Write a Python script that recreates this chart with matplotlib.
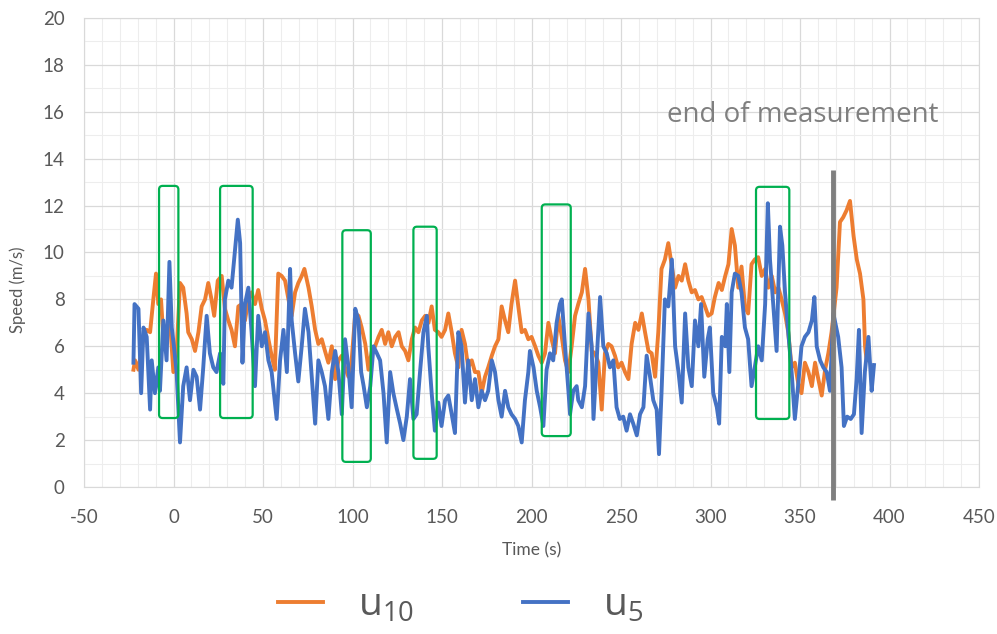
import matplotlib
matplotlib.use("Agg")
import matplotlib.pyplot as plt
from matplotlib.patches import FancyBboxPatch

plt.rcParams['font.family'] = ['Lato', 'DejaVu Sans']
plt.rcParams['mathtext.default'] = 'regular'
plt.rcParams['axes.unicode_minus'] = False

# u10 (orange) readings: time (s), speed (m/s)
t_u10 = [-22.4, -21.5, -19.6, -16.8, -15.0, -13.1, -11.3, -9.8, -8.5, -7.0, -5.7, -3.9, -2.0, -0.1,
         1.7, 3.6, 5.4, 7.3, 8.2, 10.2, 12.0, 13.9, 15.7, 17.6, 19.4, 21.2, 22.7, 24.7, 26.9, 28.7,
         30.6, 32.4, 34.3, 36.2, 38.1, 39.9, 41.8, 43.6, 45.5, 47.3, 49.3, 51.1, 53.0, 54.8, 56.6,
         58.5, 60.4, 62.3, 64.2, 66.0, 67.9, 69.7, 71.6, 73.1, 75.4, 77.2, 79.1, 80.9, 82.8, 84.6,
         86.5, 88.4, 90.3, 92.1, 94.0, 95.8, 97.7, 99.5, 101.5, 103.3, 105.1, 107.1, 108.9, 110.8,
         112.6, 114.5, 116.3, 118.2, 120.0, 121.9, 123.8, 125.7, 127.5, 129.4, 131.2, 133.1, 134.9,
         136.8, 138.7, 140.6, 142.4, 144.2, 146.0, 147.9, 149.7, 151.7, 153.5, 155.4, 157.2, 159.1,
         160.9, 162.8, 164.6, 166.6, 168.4, 170.3, 172.1, 174.0, 175.8, 177.8, 179.6, 181.5, 183.3,
         185.2, 187.0, 188.8, 190.8, 192.6, 194.5, 196.3, 198.2, 200.0, 202.0, 203.8, 205.7, 207.5,
         209.4, 211.2, 213.1, 214.9, 216.9, 218.7, 220.6, 222.4, 224.3, 226.1, 228.1, 229.9, 231.8,
         233.6, 235.5, 237.3, 239.2, 241.0, 242.9, 244.7, 246.6, 248.4, 250.3, 252.2, 254.1, 255.9,
         257.9, 259.7, 261.6, 263.4, 265.3, 267.1, 269.0, 270.8, 272.6, 274.5, 276.4, 278.4, 280.2,
         282.1, 283.9, 285.8, 287.6, 289.5, 291.3, 293.2, 295.0, 296.9, 298.7, 300.6, 302.4, 304.5,
         306.3, 308.2, 310.0, 311.8, 313.6, 315.5, 317.3, 319.2, 321.0, 322.9, 324.7, 326.6, 328.6,
         330.5, 332.3, 334.2, 336.1, 337.9, 339.7, 341.6, 343.4, 345.3, 347.1, 349.0, 350.8, 352.7,
         354.7, 356.6, 358.4, 360.2, 362.1, 364.0, 365.8, 367.6, 370.4, 372.3, 374.1, 376.0, 377.9,
         379.9, 381.7, 383.5, 385.4, 386.3, 387.2]
u10 = [5.0, 5.4, 5.0, 6.4, 6.7, 6.6, 8.0, 9.1, 7.8, 8.0, 6.4, 6.8, 7.1, 4.9,
       5.7, 8.7, 8.5, 7.4, 6.6, 6.3, 5.8, 6.6, 7.7, 8.0, 8.7, 8.0, 7.3, 8.8, 9.0, 7.6,
       7.1, 6.7, 6.0, 7.7, 7.8, 7.1, 8.0, 8.3, 7.8, 8.4, 7.6, 7.1, 6.3, 5.6, 5.0,
       9.1, 9.0, 8.8, 8.0, 7.3, 8.3, 8.7, 9.0, 9.3, 8.5, 7.7, 6.7, 6.1, 6.3, 5.8,
       5.3, 6.0, 4.6, 5.4, 5.6, 5.1, 4.7, 5.4, 7.4, 7.3, 6.8, 6.1, 5.0, 5.8,
       6.0, 6.4, 6.7, 6.1, 6.6, 6.0, 6.4, 6.6, 6.0, 5.8, 5.4, 6.3, 6.8,
       6.6, 7.1, 7.3, 7.0, 7.7, 6.7, 6.6, 6.4, 6.7, 7.4, 6.6, 5.7, 5.1,
       6.7, 6.1, 5.1, 5.4, 4.9, 4.9, 4.0, 4.7, 5.1, 5.6, 6.0, 6.3, 7.7,
       7.1, 6.6, 7.8, 8.8, 7.7, 6.6, 6.7, 6.3, 6.4, 6.0, 5.6, 5.3, 5.7,
       7.0, 6.3, 5.7, 7.3, 6.4, 5.4, 4.9, 6.0, 7.3, 7.8, 8.3, 9.3, 8.0,
       5.8, 5.7, 5.3, 3.3, 5.7, 6.1, 6.0, 5.6, 5.1, 5.3, 4.9, 4.6, 6.1,
       7.0, 6.7, 7.4, 6.6, 5.8, 5.7, 4.7, 6.6, 9.3, 9.7, 10.4, 9.4, 8.5,
       9.0, 8.8, 9.5, 8.8, 8.3, 8.4, 8.0, 8.1, 7.7, 7.3, 7.4, 8.1, 8.7,
       8.4, 9.0, 9.5, 11.0, 10.3, 8.5, 9.4, 7.7, 7.4, 9.5, 9.7, 9.8, 9.0,
       9.3, 8.5, 9.0, 8.3, 8.5, 8.0, 7.4, 6.6, 5.1, 5.3, 4.4, 4.0, 5.3,
       4.9, 4.3, 5.3, 4.6, 3.9, 5.0, 5.7, 6.6, 8.5, 11.3, 11.5, 11.8, 12.2,
       10.7, 9.7, 9.1, 8.0, 6.0, 5.4]

# u5 (blue) readings: time (s), speed (m/s)
t_u5 = [-22.4, -21.8, -19.6, -18.1, -16.8, -15.0, -13.1, -12.2, -10.4, -8.5, -7.6, -5.7, -3.9, -2.3,
        -1.0, 0.5, 1.7, 3.6, 5.4, 7.3, 9.2, 11.1, 12.9, 14.8, 16.6, 18.5, 20.3, 22.2, 24.0, 26.0,
        27.8, 28.7, 30.6, 32.4, 34.3, 35.9, 37.2, 38.5, 39.9, 41.8, 43.6, 45.5, 47.3, 49.3, 51.1,
        53.0, 54.8, 57.6, 59.5, 61.4, 63.3, 65.1, 66.0, 67.9, 69.7, 71.6, 73.4, 75.4, 77.2, 79.1,
        80.9, 82.8, 84.6, 86.5, 88.4, 90.3, 92.1, 94.0, 95.8, 97.7, 99.5, 101.5, 103.3, 104.8,
        106.2, 108.0, 109.9, 111.7, 113.6, 115.4, 117.3, 119.1, 121.0, 122.8, 124.8, 126.6, 128.4,
        130.3, 132.1, 134.0, 135.8, 137.7, 139.6, 141.5, 142.3, 144.2, 146.0, 147.9, 149.7, 151.7,
        153.5, 155.4, 157.2, 159.1, 160.9, 162.8, 164.6, 166.6, 168.4, 170.3, 172.1, 174.0, 175.8,
        177.8, 179.6, 181.5, 183.3, 185.2, 187.0, 188.8, 190.8, 192.6, 194.5, 196.3, 198.2, 199.1,
        201.1, 202.9, 204.8, 206.6, 208.4, 210.3, 212.1, 214.0, 215.8, 216.9, 218.7, 220.6, 221.5,
        223.3, 225.2, 226.1, 228.1, 229.9, 231.8, 233.6, 234.6, 236.4, 238.3, 240.1, 242.0, 243.8,
        245.7, 247.5, 249.3, 251.2, 253.1, 255.0, 256.8, 258.8, 260.6, 262.5, 264.3, 266.2, 268.0,
        269.9, 271.2, 272.6, 274.5, 276.4, 278.4, 280.2, 282.1, 283.9, 285.8, 287.6, 289.5, 291.3,
        293.2, 294.7, 296.5, 298.4, 299.6, 301.5, 303.5, 304.8, 306.3, 308.2, 309.1, 310.5, 311.8,
        313.6, 315.5, 317.3, 319.2, 321.0, 322.9, 324.7, 326.6, 328.6, 330.5, 332.0, 333.2, 335.1,
        336.9, 338.8, 340.1, 341.6, 343.4, 345.3, 347.1, 349.0, 350.8, 352.7, 354.7, 356.6, 358.0,
        359.3, 361.2, 363.0, 364.9, 366.7, 368.6, 371.3, 373.2, 374.5, 376.3, 378.3, 380.1, 381.6,
        382.9, 384.4, 386.2, 388.2, 390.0, 391.3]
u5 = [5.3, 7.8, 7.6, 4.0, 6.8, 6.4, 3.3, 5.4, 4.0, 5.1, 4.1, 7.1, 5.4, 9.6,
      6.8, 5.8, 4.9, 1.9, 4.3, 5.1, 3.7, 5.0, 4.7, 3.3, 5.1, 7.3, 5.7, 5.1, 4.9, 5.7,
      4.4, 8.0, 8.8, 8.5, 10.1, 11.4, 10.4, 5.3, 7.8, 8.5, 6.6, 4.3, 7.3, 6.0, 6.6,
      5.4, 4.9, 2.9, 5.4, 6.7, 4.9, 9.3, 7.1, 5.7, 4.5, 6.0, 7.6, 6.6, 4.7, 2.7,
      5.4, 4.9, 4.3, 2.9, 4.9, 5.8, 4.9, 3.1, 6.3, 5.1, 3.4, 7.6, 7.1, 4.9,
      4.3, 3.4, 4.3, 6.0, 5.7, 5.4, 4.0, 1.9, 4.9, 4.0, 3.3, 2.7, 2.0,
      3.0, 4.6, 2.9, 3.1, 4.9, 6.6, 7.3, 6.0, 4.0, 2.4, 3.6, 2.6, 3.7,
      3.9, 3.1, 2.3, 6.6, 6.0, 3.6, 5.4, 3.7, 4.6, 3.4, 4.1, 3.7, 4.1,
      5.4, 4.9, 3.7, 3.0, 4.1, 3.4, 3.1, 2.9, 2.6, 1.9, 3.7, 4.9, 5.8,
      5.1, 4.1, 3.4, 2.6, 5.0, 5.7, 5.4, 7.0, 7.8, 8.0, 6.0, 4.1, 3.1,
      4.1, 4.3, 3.7, 3.4, 4.3, 7.4, 6.0, 2.9, 5.4, 8.1, 6.0, 5.7, 5.1,
      5.4, 3.4, 2.9, 3.0, 2.4, 3.1, 2.7, 2.2, 3.1, 3.4, 5.6, 4.7, 3.7,
      3.3, 1.4, 4.0, 8.0, 7.7, 9.7, 6.0, 4.9, 3.6, 7.4, 5.1, 4.3, 7.1,
      6.0, 7.8, 4.7, 6.3, 6.8, 4.0, 3.4, 2.7, 6.4, 6.0, 7.8, 4.9, 8.3,
      9.1, 9.0, 8.3, 6.8, 6.3, 4.3, 5.1, 6.0, 5.4, 7.8, 12.1, 9.7, 7.7,
      5.8, 11.1, 10.3, 8.3, 6.6, 4.9, 2.9, 4.4, 6.0, 6.4, 6.6, 7.1, 8.1,
      6.0, 5.4, 5.1, 4.9, 4.1, 7.4, 6.4, 5.1, 2.6, 3.0, 2.9, 3.1, 4.6,
      6.7, 2.3, 4.9, 6.4, 4.1, 5.2]

# highlighted intervals: (t start, t end, speed low, speed high)
boxes = [(-8.1, 2.7, 2.94, 12.84), (26.0, 44.2, 2.94, 12.84), (94.3, 110.2, 1.07, 10.95),
         (134.0, 147.0, 1.2, 11.1), (205.7, 221.9, 2.17, 12.05), (325.4, 344.0, 2.9, 12.8)]
end_time = 368.3

orange = '#ED7D31'
blue = '#4472C4'
text_gray = '#595959'

fig = plt.figure(figsize=(9.97, 6.34), dpi=100)
ax = fig.add_axes([0.0843, 0.2319, 0.8977, 0.7397])

ax.plot(t_u10, u10, color=orange, lw=2.8, label='u$_{10}$', zorder=3)
ax.plot(t_u5, u5, color=blue, lw=2.8, label='u$_5$', zorder=4)

for t0, t1, y0, y1 in boxes:
    ax.add_patch(FancyBboxPatch((t0, y0), t1 - t0, y1 - y0,
                                boxstyle='round,pad=0,rounding_size=2',
                                mutation_aspect=1.79 / 23.45,
                                fill=False, ec='#00B050', lw=1.6, zorder=5))

ax.plot([end_time, end_time], [13.5, -0.55], color='#7F7F7F', lw=3.5,
        clip_on=False, zorder=6, solid_capstyle='butt')
ax.text(351.6, 15.85, 'end of measurement', color='#7F7F7F', fontsize=20,
        family=['Open Sans', 'DejaVu Sans'], ha='center', va='center')

ax.set_xlim(-50, 450)
ax.set_ylim(0, 20)
ax.set_xticks(range(-50, 451, 50))
ax.set_yticks(range(0, 21, 2))
ax.set_xticks(range(-50, 451, 10), minor=True)
ax.set_yticks(range(0, 21, 1), minor=True)
ax.grid(which='major', color='#D9D9D9', lw=0.9)
ax.grid(which='minor', color='#EDEDED', lw=0.8)
ax.set_axisbelow(True)
for s in ax.spines.values():
    s.set_color('#D9D9D9')
ax.tick_params(which='both', length=0, colors=text_gray, labelsize=13.5)
ax.tick_params(axis='x', pad=16)
ax.tick_params(axis='y', pad=14)

ax.set_xlabel('Time (s)', color=text_gray, fontsize=12.5)
ax.xaxis.set_label_coords(0.5, -0.117)
ax.set_ylabel('Speed (m/s)', color=text_gray, fontsize=12)
ax.yaxis.set_label_coords(-0.065, 0.42)

fig.legend(loc='center', bbox_to_anchor=(0.462, 0.045), ncol=2, frameon=False,
           prop={'family': ['Open Sans', 'DejaVu Sans'], 'size': 28},
           labelcolor=text_gray, handlelength=1.15, columnspacing=2.8,
           handletextpad=0.9)

fig.savefig('out.png', dpi=100)
